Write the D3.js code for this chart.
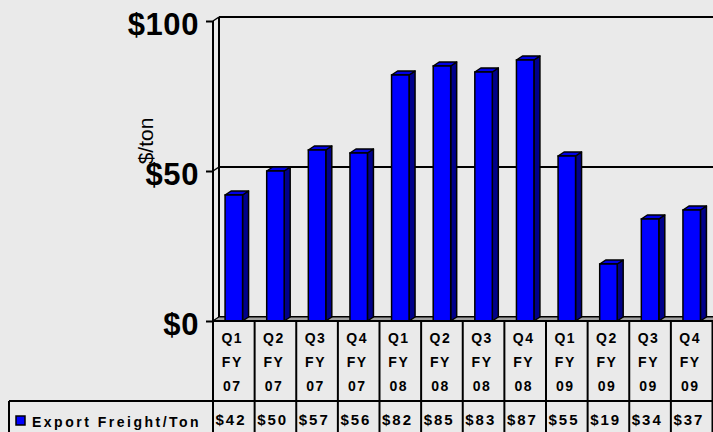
<!DOCTYPE html>
<html>
<head>
<meta charset="utf-8">
<script src="https://cdn.jsdelivr.net/npm/d3@7"></script>
<style>
  html, body { margin: 0; padding: 0; background: #eaeaea; }
  svg { display: block; font-family: "Liberation Sans", Arial, sans-serif; }
</style>
</head>
<body>
<svg id="chart" width="713" height="432"></svg>
<script>
// Export freight cost per ton by fiscal quarter
const quarters = ["Q1","Q2","Q3","Q4","Q1","Q2","Q3","Q4","Q1","Q2","Q3","Q4"];
const fiscalYears = ["07","07","07","07","08","08","08","08","09","09","09","09"];
const freightPerTon = [42, 50, 57, 56, 82, 85, 83, 87, 55, 19, 34, 37];
const yTicks = [0, 50, 100];
const seriesName = "Export Freight/Ton";
const yTitle = "$/ton";

const svg = d3.select("#chart");
const W = 713;
const plotLeft = 213, plotRight = 712.5, plotTop = 21, plotBottom = 321;
const depthX = 6, depthY = -4;

const keys = quarters.map((q, i) => q + " FY " + fiscalYears[i] + "#" + i);
const data = keys.map((k, i) => ({ key: k, q: quarters[i], fy: fiscalYears[i], v: freightPerTon[i] }));

const x = d3.scaleBand().domain(keys).range([plotLeft, plotRight]).paddingInner(0.58).paddingOuter(0.29);
const cols = d3.scaleBand().domain(keys).range([plotLeft, plotRight]).padding(0);
const y = d3.scaleLinear().domain([0, 100]).range([plotBottom, plotTop]);

// back wall gridlines and side wall
const walls = svg.append("g");
yTicks.forEach(t => {
  walls.append("line")
    .attr("x1", plotLeft + depthX).attr("x2", W + 2)
    .attr("y1", y(t) + depthY).attr("y2", y(t) + depthY)
    .attr("stroke", "#000").attr("stroke-width", 2);
  walls.append("line")
    .attr("x1", plotLeft).attr("y1", y(t))
    .attr("x2", plotLeft + depthX).attr("y2", y(t) + depthY)
    .attr("stroke", "#000").attr("stroke-width", 1.5);
});
walls.append("line")
  .attr("x1", plotLeft + depthX).attr("x2", plotLeft + depthX)
  .attr("y1", y(100) + depthY).attr("y2", y(0) + depthY)
  .attr("stroke", "#000").attr("stroke-width", 2);

// floor
walls.append("path")
  .attr("d", `M${plotLeft},${y(0)}L${plotLeft + depthX},${y(0) + depthY}L${W + 2},${y(0) + depthY}L${W + 2},${y(0)}Z`)
  .attr("fill", "#a0a0a0").attr("stroke", "#000").attr("stroke-width", 1);

// bars
const bars = svg.append("g").selectAll("g").data(data).join("g");
bars.append("path") // side
  .attr("d", d => {
    const x1 = x(d.key) + x.bandwidth();
    return `M${x1},${y(0)}L${x1 + depthX},${y(0) + depthY}L${x1 + depthX},${y(d.v) + depthY}L${x1},${y(d.v)}Z`;
  })
  .attr("fill", "#00008b").attr("stroke", "#000").attr("stroke-width", 1.5).attr("stroke-linejoin", "round");
bars.append("path") // top
  .attr("d", d => {
    const x0 = x(d.key), x1 = x0 + x.bandwidth(), yy = y(d.v);
    return `M${x0},${yy}L${x0 + depthX},${yy + depthY}L${x1 + depthX},${yy + depthY}L${x1},${yy}Z`;
  })
  .attr("fill", "#0000e6").attr("stroke", "#000").attr("stroke-width", 1.5).attr("stroke-linejoin", "round");
bars.append("rect") // front
  .attr("x", d => x(d.key)).attr("width", x.bandwidth())
  .attr("y", d => y(d.v)).attr("height", d => y(0) - y(d.v))
  .attr("fill", "#0000ff").attr("stroke", "#000").attr("stroke-width", 1.5);

// y axis
const yAxis = svg.append("g").attr("transform", `translate(${plotLeft},0)`)
  .call(d3.axisLeft(y).tickValues(yTicks).tickSize(7).tickPadding(7).tickFormat(d => "$" + d));
yAxis.select(".domain").attr("stroke", "#000").attr("stroke-width", 2).attr("d", `M0,${plotTop}V${plotBottom}`);
yAxis.selectAll(".tick line").attr("stroke", "#000").attr("stroke-width", 2);
yAxis.selectAll(".tick text")
  .attr("fill", "#000").attr("font-size", 31).attr("font-weight", "bold")
  .attr("letter-spacing", "0.6").attr("dy", "0.42em")
  .attr("font-family", "'Liberation Sans', Arial, sans-serif");

svg.append("text")
  .attr("transform", `translate(153,141) rotate(-90)`)
  .attr("text-anchor", "middle")
  .attr("font-size", 21).attr("fill", "#000")
  .text(yTitle);

// data table
const table = svg.append("g");
const lineStyle = s => s.attr("stroke", "#000").attr("stroke-width", 2);
table.append("line").attr("x1", plotLeft).attr("x2", W + 2).attr("y1", plotBottom).attr("y2", plotBottom).call(lineStyle);
table.append("line").attr("x1", 9).attr("x2", W + 2).attr("y1", 401).attr("y2", 401).call(lineStyle);
table.append("line").attr("x1", 9).attr("x2", 9).attr("y1", 401).attr("y2", 440).call(lineStyle);
keys.concat(["end"]).forEach((k, i) => {
  const xx = i < keys.length ? cols(k) : plotRight;
  table.append("line").attr("x1", xx).attr("x2", xx).attr("y1", plotBottom).attr("y2", 440).call(lineStyle);
});

const cell = table.selectAll("g.cell").data(data).join("g").attr("class", "cell");
const rowText = (sel, baseline, f) => sel.append("text")
  .attr("x", d => cols(d.key) + cols.bandwidth() / 2 - 1.5)
  .attr("y", baseline).attr("text-anchor", "middle")
  .attr("font-size", 14).attr("font-weight", "bold").attr("letter-spacing", 1.5).attr("fill", "#000")
  .text(f);
rowText(cell, 342.5, d => d.q);
rowText(cell, 366.5, () => "FY");
rowText(cell, 390.5, d => d.fy);
cell.append("text")
  .attr("x", d => cols(d.key) + 2.5)
  .attr("y", 425)
  .attr("font-size", 15).attr("font-weight", "bold").attr("letter-spacing", 2).attr("fill", "#000")
  .text(d => "$" + d.v);

// legend key
table.append("rect").attr("x", 16).attr("y", 416).attr("width", 9).attr("height", 9)
  .attr("fill", "#0000ff").attr("stroke", "#000").attr("stroke-width", 1.5);
table.append("text").attr("x", 32).attr("y", 427)
  .attr("font-size", 14).attr("font-weight", "bold").attr("letter-spacing", 2.5).attr("fill", "#000")
  .text(seriesName);
</script>
</body>
</html>
